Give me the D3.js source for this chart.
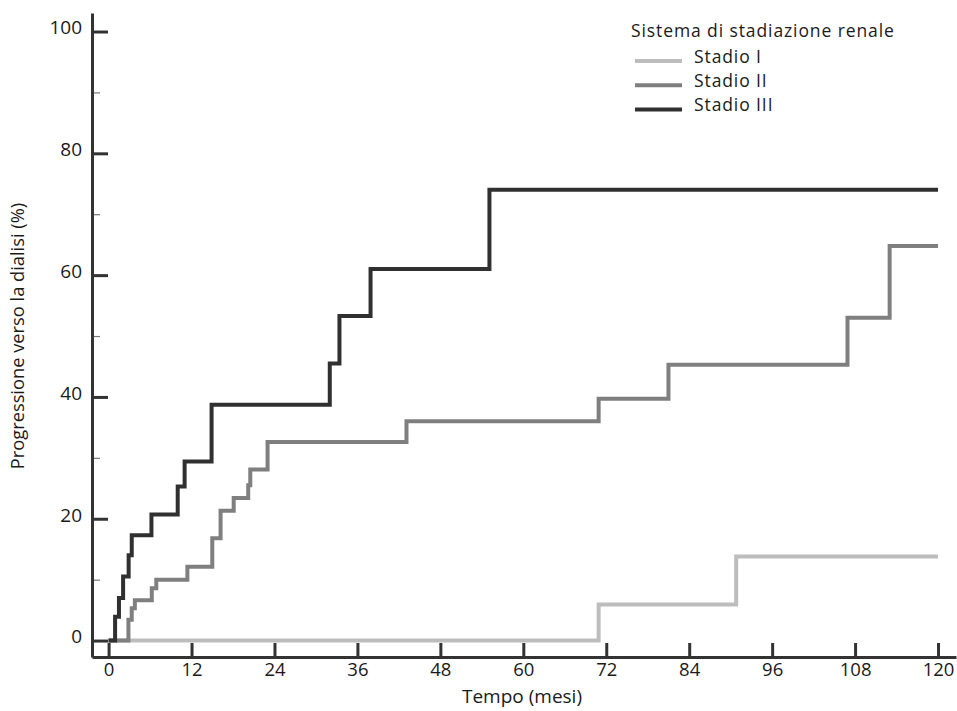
<!DOCTYPE html>
<html>
<head>
<meta charset="utf-8">
<script src="https://cdn.jsdelivr.net/npm/d3@7"></script>
<style>
  html, body { margin: 0; padding: 0; background: #fff; }
  svg { display: block; }
  text { font-family: "Open Sans", "DejaVu Sans", sans-serif; fill: #1a1a1a; }
</style>
</head>
<body>
<svg id="chart" width="957" height="711"></svg>
<script>
// ---- Data ----
const xTicks = [0, 12, 24, 36, 48, 60, 72, 84, 96, 108, 120];
const yTicks = [0, 20, 40, 60, 80, 100];
const yMinorTicks = [10, 30, 50, 70, 90];

const seriesNames = ["Stadio I", "Stadio II", "Stadio III"];
const legendTitle = "Sistema di stadiazione renale";
const xTitle = "Tempo (mesi)";
const yTitle = "Progressione verso la dialisi (%)";

const stage1Times  = [0, 70.9, 90.8, 120];
const stage1Values = [0, 5.9, 13.8, 13.8];

const stage2Times  = [0, 2.87, 3.35, 3.8, 6.25, 6.9, 11.4, 15.0, 16.2, 18.1, 20.2, 20.5, 23.0, 43.1, 70.9, 81.0, 106.9, 113.0, 120];
const stage2Values = [0, 3.4, 5.3, 6.6, 8.6, 10.0, 12.1, 16.8, 21.3, 23.4, 25.5, 28.1, 32.6, 36.0, 39.7, 45.3, 53.0, 64.8, 64.8];

const stage3Times  = [0, 0.94, 1.5, 2.1, 2.9, 3.35, 6.2, 10.0, 11.0, 14.9, 32.0, 33.4, 37.9, 55.1, 120];
const stage3Values = [0, 3.9, 7.0, 10.5, 14.0, 17.3, 20.7, 25.3, 29.4, 38.7, 45.5, 53.3, 61.0, 74.0, 74.0];

const seriesColors = ["#bdbdbd", "#7f7f7f", "#303030"];

// ---- Build ----
const svg = d3.select("#chart");

const x = d3.scaleLinear().domain([-2.4, 122.6]).range([92, 956]);
const y = d3.scaleLinear().domain([-2.7, 103.04]).range([657, 13]);

const series = [
  { name: seriesNames[0], times: stage1Times, values: stage1Values, color: seriesColors[0] },
  { name: seriesNames[1], times: stage2Times, values: stage2Values, color: seriesColors[1] },
  { name: seriesNames[2], times: stage3Times, values: stage3Values, color: seriesColors[2] }
];

const line = d3.line()
  .x(d => x(d[0]))
  .y(d => y(d[1]))
  .curve(d3.curveStepAfter);

// lines
series.forEach(s => {
  const pts = s.times.map((t, i) => [t, s.values[i]]);
  svg.append("path")
    .attr("d", line(pts))
    .attr("fill", "none")
    .attr("stroke", s.color)
    .attr("stroke-width", 4)
    .attr("stroke-linejoin", "miter")
    .attr("stroke-linecap", "butt");
});

// minor y ticks
const yMinor = svg.append("g").attr("transform", `translate(${x(-2.4)},0)`)
  .call(d3.axisLeft(y).tickValues(yMinorTicks).tickSize(-8).tickFormat(""));
yMinor.select(".domain").remove();
yMinor.selectAll(".tick line").attr("stroke", "#777").attr("stroke-width", 1.2);

// y axis
const yAxis = svg.append("g").attr("transform", `translate(${x(-2.4)},0)`)
  .call(d3.axisLeft(y).tickValues(yTicks).tickSize(-16).tickSizeOuter(0).tickPadding(10));
yAxis.select(".domain").attr("stroke", "#333").attr("stroke-width", 3);
yAxis.selectAll(".tick line").attr("stroke", "#333").attr("stroke-width", 3);
yAxis.selectAll(".tick text")
  .attr("font-size", 19).attr("dy", "0.12em")
  .attr("font-family", "'Open Sans', sans-serif").attr("fill", "#1a1a1a");

// x axis
const xAxis = svg.append("g").attr("transform", `translate(0,${y(-2.7)})`)
  .call(d3.axisBottom(x).tickValues(xTicks).tickSize(-14).tickSizeOuter(0).tickPadding(6));
xAxis.select(".domain").attr("stroke", "#333").attr("stroke-width", 3);
xAxis.selectAll(".tick line").attr("stroke", "#333").attr("stroke-width", 3);
xAxis.selectAll(".tick text")
  .attr("font-size", 18.5)
  .attr("font-family", "'Open Sans', sans-serif").attr("fill", "#1a1a1a");

// axis titles
svg.append("text")
  .attr("x", 522)
  .attr("y", 703)
  .attr("text-anchor", "middle")
  .attr("font-size", 19)
  .text(xTitle);

svg.append("text")
  .attr("transform", "translate(24,336) rotate(-90)")
  .attr("text-anchor", "middle")
  .attr("font-size", 18.3)
  .text(yTitle);

// legend
const legend = svg.append("g");
legend.append("text")
  .attr("x", 631).attr("y", 37)
  .attr("font-size", 17.5)
  .attr("letter-spacing", 0.9)
  .text(legendTitle);

series.forEach((s, i) => {
  const ly = 61 + i * 24.2;
  legend.append("line")
    .attr("x1", 635).attr("x2", 682)
    .attr("y1", ly).attr("y2", ly)
    .attr("stroke", s.color).attr("stroke-width", 4);
  legend.append("text")
    .attr("x", 694).attr("y", ly + 2)
    .attr("font-size", 17.5)
    .attr("letter-spacing", 0.9)
    .text(s.name);
});
</script>
</body>
</html>
